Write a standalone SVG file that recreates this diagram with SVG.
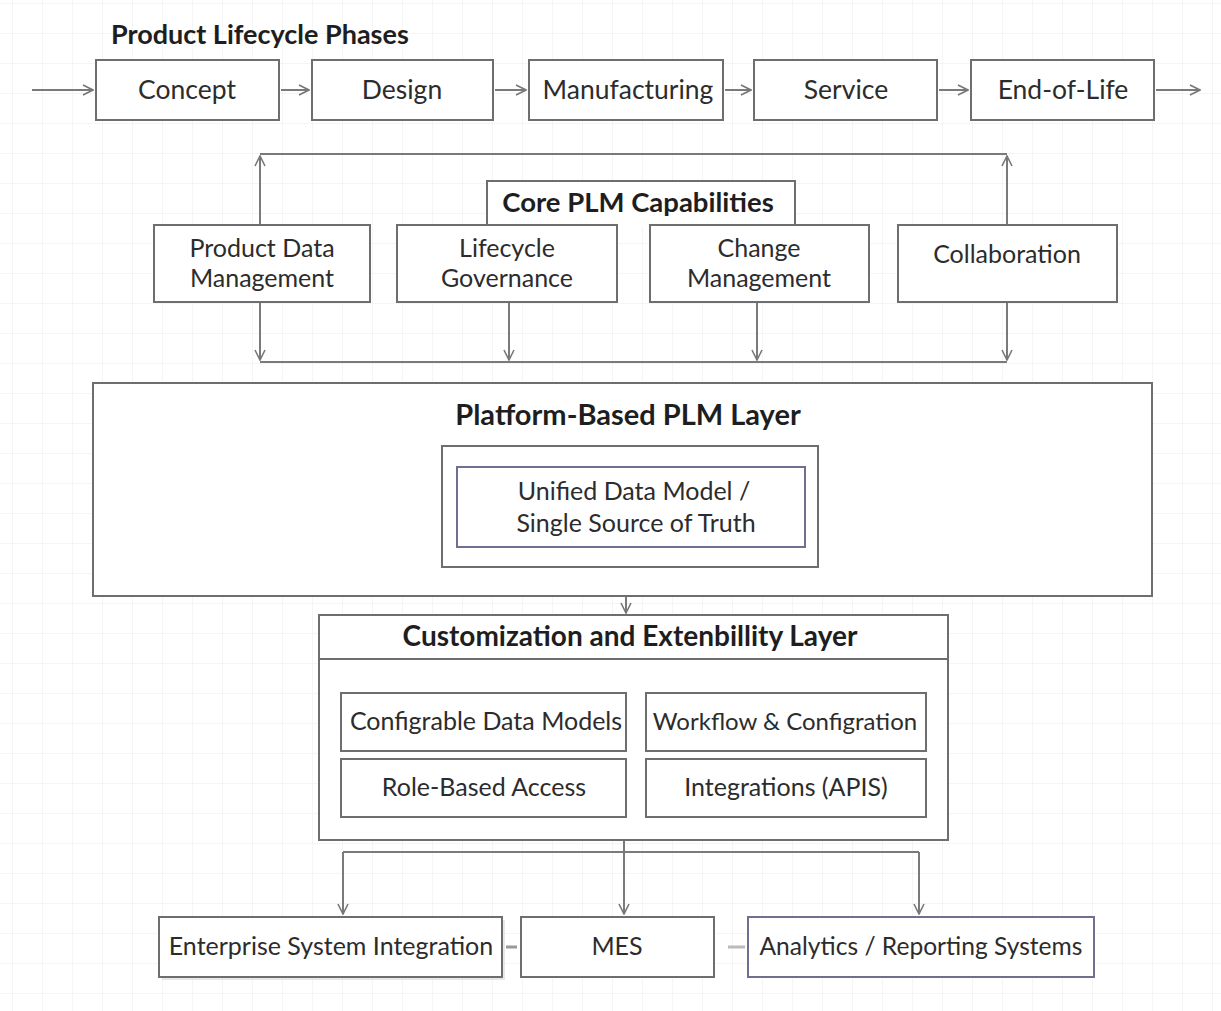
<svg xmlns="http://www.w3.org/2000/svg" width="1221" height="1011" viewBox="0 0 1221 1011">
<defs>
<pattern id="grid" x="12" y="3" width="30" height="30" patternUnits="userSpaceOnUse">
<path d="M0 0H30M0 0V30" fill="none" stroke="#ececec" stroke-width="1"/>
</pattern>
<marker id="ah" viewBox="0 0 12 12" refX="11" refY="6" markerWidth="12" markerHeight="12" markerUnits="userSpaceOnUse" orient="auto">
<path d="M1 1L11 6L1 11" fill="none" stroke="#777" stroke-width="1.6"/>
</marker>
</defs>
<style>
.box{fill:#fff;stroke:#6e6e6e;stroke-width:2}
.t{font-family:Lato,"Open Sans","Liberation Sans",sans-serif;fill:#2c2c2c;text-anchor:middle}
.n{font-size:25px}
.p{font-size:26.5px}
.b{font-weight:bold;font-size:27px;fill:#1e1e1e}
.c{fill:none;stroke:#7a7a7a;stroke-width:2}
</style>
<rect width="1221" height="1011" fill="#fff"/>
<rect width="1221" height="1011" fill="url(#grid)"/>

<text class="t b" x="111" y="44" style="text-anchor:start">Product Lifecycle Phases</text>

<g id="connectors">
<path class="c" d="M32 90H93" marker-end="url(#ah)"/>
<path class="c" d="M281 90H309" marker-end="url(#ah)"/>
<path class="c" d="M495 90H526" marker-end="url(#ah)"/>
<path class="c" d="M725 90H751" marker-end="url(#ah)"/>
<path class="c" d="M939 90H968" marker-end="url(#ah)"/>
<path class="c" d="M1156 90H1200" marker-end="url(#ah)"/>
<path class="c" d="M260 154H1007"/>
<path class="c" d="M260 225V156" marker-end="url(#ah)"/>
<path class="c" d="M1007 225V156" marker-end="url(#ah)"/>
<path class="c" d="M260 362H1007"/>
<path class="c" d="M260 302V360" marker-end="url(#ah)"/>
<path class="c" d="M509 302V360" marker-end="url(#ah)"/>
<path class="c" d="M757 302V360" marker-end="url(#ah)"/>
<path class="c" d="M1007 302V360" marker-end="url(#ah)"/>
<path class="c" d="M403 577V508H454" marker-end="url(#ah)"/>
<path class="c" d="M626 567V613" marker-end="url(#ah)"/>
<path class="c" d="M624 840V852"/>
<path class="c" d="M343 852H919"/>
<path class="c" d="M343 852V914" marker-end="url(#ah)"/>
<path class="c" d="M624 852V914" marker-end="url(#ah)"/>
<path class="c" d="M919 852V914" marker-end="url(#ah)"/>
<path d="M506 947H517" stroke="#999" stroke-width="3"/>
<path d="M728 947H745" stroke="#bbb" stroke-width="3"/>
</g>

<g id="concept"><rect class="box" x="96" y="60" width="183" height="60"/><text class="t p" x="187" y="99">Concept</text></g>
<g id="design"><rect class="box" x="312" y="60" width="181" height="60"/><text class="t p" x="402" y="99">Design</text></g>
<g id="manufacturing"><rect class="box" x="529" y="60" width="194" height="60"/><text class="t p" x="628" y="99">Manufacturing</text></g>
<g id="service"><rect class="box" x="754" y="60" width="183" height="60"/><text class="t p" x="846" y="99">Service</text></g>
<g id="eol"><rect class="box" x="971" y="60" width="183" height="60"/><text class="t p" x="1063" y="99">End-of-Life</text></g>

<g id="core-title"><path class="box" d="M487 226V181H795V226"/><text class="t b" x="638" y="212" style="font-size:27.5px">Core PLM Capabilities</text></g>
<g id="pdm"><rect class="box" x="154" y="225" width="216" height="77"/><text class="t n" x="262" y="257">Product Data</text><text class="t n" x="262" y="287">Management</text></g>
<g id="lg"><rect class="box" x="397" y="225" width="220" height="77"/><text class="t n" x="507" y="257">Lifecycle</text><text class="t n" x="507" y="287">Governance</text></g>
<g id="cm"><rect class="box" x="650" y="225" width="219" height="77"/><text class="t n" x="759" y="257">Change</text><text class="t n" x="759" y="287">Management</text></g>
<g id="collab"><rect class="box" x="898" y="225" width="219" height="77"/><text class="t n" x="1007" y="263">Collaboration</text></g>

<g id="platform"><rect class="box" x="93" y="383" width="1059" height="213"/><text class="t b" x="628" y="425" style="font-size:29px">Platform-Based PLM Layer</text>
<rect class="box" x="442" y="446" width="376" height="121"/></g>
<g id="udm"><rect class="box" x="457" y="467" width="348" height="80" style="stroke:#6f7090"/><text class="t n" x="634" y="500">Unified Data Model /</text><text class="t n" x="636" y="532">Single Source of Truth</text></g>

<g id="custom"><rect class="box" x="319" y="615" width="629" height="225"/><path d="M319 659H948" class="c" style="stroke:#6e6e6e"/><text class="t b" x="630" y="646" style="font-size:28px">Customization and Extenbillity Layer</text></g>
<g id="cdm"><rect class="box" x="341" y="693" width="285" height="58"/><text class="t n" x="486" y="730">Configrable Data Models</text></g>
<g id="wf"><rect class="box" x="646" y="693" width="280" height="58"/><text class="t n" x="785" y="730" style="font-size:24px">Workflow &amp; Configration</text></g>
<g id="rba"><rect class="box" x="341" y="759" width="285" height="58"/><text class="t n" x="484" y="796">Role-Based Access</text></g>
<g id="api"><rect class="box" x="646" y="759" width="280" height="58"/><text class="t n" x="786" y="796">Integrations (APIS)</text></g>

<g id="esi"><rect x="162" y="920" width="343" height="60" fill="#d8d8d8" opacity="0.6"/><rect class="box" x="159" y="917" width="343" height="60"/><text class="t n" x="331" y="955">Enterprise System Integration</text></g>
<g id="mes"><rect class="box" x="521" y="917" width="193" height="60"/><text class="t n" x="617" y="955">MES</text></g>
<g id="analytics"><rect class="box" x="748" y="917" width="346" height="60" style="stroke:#6f7090"/><text class="t n" x="921" y="955" style="font-size:24.6px">Analytics / Reporting Systems</text></g>
</svg>
